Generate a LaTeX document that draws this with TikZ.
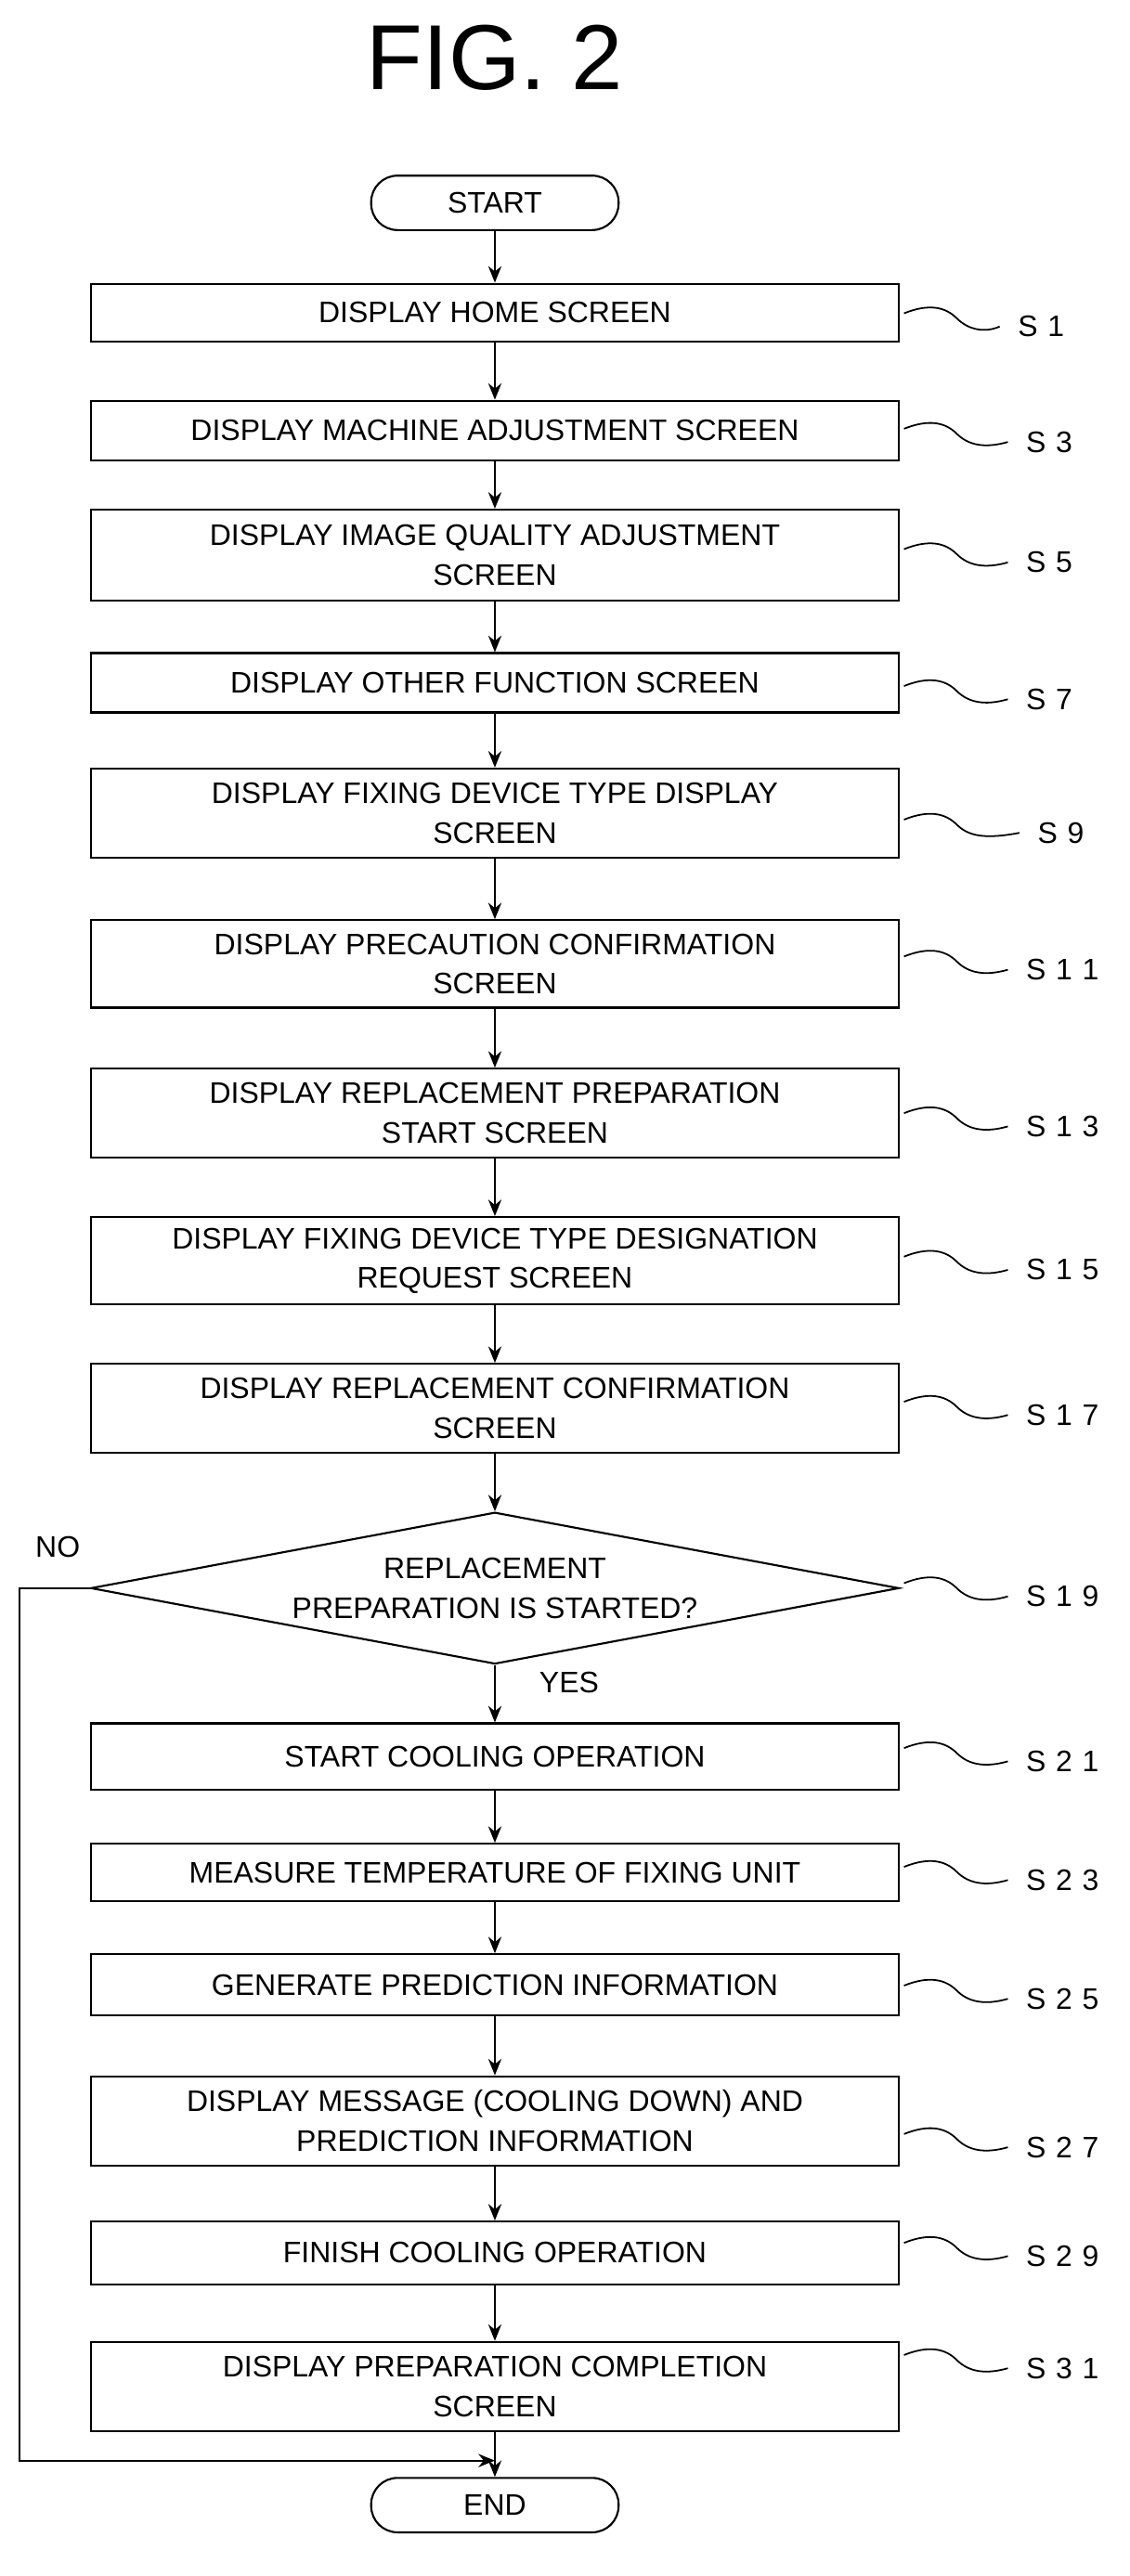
\documentclass[tikz,border=0pt]{standalone}
\usepackage{fontspec}
\setmainfont{Liberation Sans}
\usetikzlibrary{shapes.geometric,arrows.meta}
\begin{document}
\begin{tikzpicture}[x=0.5pt,y=-0.5pt,
  box/.style={draw,line width=0.6pt,minimum width=245pt,align=center,font=\fontsize{9}{12}\selectfont,inner sep=0pt},
  term/.style={draw,line width=0.6pt,rounded corners=8pt,minimum width=75pt,minimum height=16.5pt,font=\fontsize{9}{11}\selectfont},
  arr/.style={-{Stealth[length=5pt,width=4pt]},line width=0.6pt},
  lab/.style={font=\fontsize{9}{11}\selectfont,anchor=west},
  sq/.style={line width=0.5pt}]
\useasboundingbox (0,0) rectangle (685,1562);
\node[font=\fontsize{28}{30}\selectfont] (title) at (300,35) {FIG. 2};
\node[term] (start) at (300,123) {START};
\newcommand{\bx}[4]{\node[box,minimum height=#3*0.5pt] (#1) at (300,#2) {#4};}
\bx{s1}{189.5}{35}{DISPLAY HOME SCREEN}
\bx{s3}{261}{36}{DISPLAY MACHINE ADJUSTMENT SCREEN}
\bx{s5}{336.5}{55}{DISPLAY IMAGE QUALITY ADJUSTMENT\\SCREEN}
\bx{s7}{414}{36}{DISPLAY OTHER FUNCTION SCREEN}
\bx{s9}{493}{54}{DISPLAY FIXING DEVICE TYPE DISPLAY\\SCREEN}
\bx{s11}{584.5}{53}{DISPLAY PRECAUTION CONFIRMATION\\SCREEN}
\bx{s13}{675}{54}{DISPLAY REPLACEMENT PREPARATION\\START SCREEN}
\bx{s15}{764.5}{53}{DISPLAY FIXING DEVICE TYPE DESIGNATION\\REQUEST SCREEN}
\bx{s17}{854}{54}{DISPLAY REPLACEMENT CONFIRMATION\\SCREEN}
\node[draw,line width=0.6pt,diamond,aspect=5.3,minimum width=245pt,minimum height=46pt,inner sep=0pt,align=center,font=\fontsize{9}{12}\selectfont] (s19) at (300,963) {REPLACEMENT\\PREPARATION IS STARTED?};
\bx{s21}{1065}{40}{START COOLING OPERATION}
\bx{s23}{1135.5}{35}{MEASURE TEMPERATURE OF FIXING UNIT}
\bx{s25}{1203.5}{37}{GENERATE PREDICTION INFORMATION}
\bx{s27}{1286}{54}{DISPLAY MESSAGE (COOLING DOWN) AND\\PREDICTION INFORMATION}
\bx{s29}{1366}{38}{FINISH COOLING OPERATION}
\bx{s31}{1447}{54}{DISPLAY PREPARATION COMPLETION\\SCREEN}
\node[term] (end) at (300,1519) {END};
\foreach \a/\b in {start/s1,s1/s3,s3/s5,s5/s7,s7/s9,s9/s11,s11/s13,s13/s15,s15/s17,s17/s19,s19/s21,s21/s23,s23/s25,s25/s27,s27/s29,s29/s31}
  \draw[arr] (\a) -- (\b);
\coordinate (j) at (300,1492);
\draw[line width=0.6pt] (s31.south) -- (j);
\draw[arr] (j) -- (end.north);
\coordinate (n1) at (12,963);
\coordinate (n2) at (12,1492);
\draw[arr] (s19.west) -- (n1) -- (n2) -- (j);
\node[font=\fontsize{9}{11}\selectfont] (no) at (35,938) {NO};
\node[font=\fontsize{9}{11}\selectfont] (yes) at (345,1020) {YES};
\foreach \n/\y/\lx in {s1/198/610,s3/268/615,s5/341/615,s7/424/615,s9/505/622,s11/588/615,s13/683/615,s15/770/615,s17/858/615,s19/968/615,s21/1068/615,s23/1140/615,s25/1212/615,s27/1302/615,s29/1368/615,s31/1436/615}{
  \coordinate (a\n) at (548,\y-8);
  \coordinate (b\n) at (\lx-4,\y);
  \draw[sq] (a\n) .. controls (563,\y-14) and (573,\y-12) .. (580,\y-5) .. controls (587,\y+2) and (597,\y+4) .. (b\n);
}
\foreach \n/\y/\lx/\t in {s1/198/610/S\,\,1,s3/268/615/S\,\,3,s5/341/615/S\,\,5,s7/424/615/S\,\,7,s9/505/622/S\,\,9,s11/588/615/S\,\,1\,\,1,s13/683/615/S\,\,1\,\,3,s15/770/615/S\,\,1\,\,5,s17/858/615/S\,\,1\,\,7,s19/968/615/S\,\,1\,\,9,s21/1068/615/S\,\,2\,\,1,s23/1140/615/S\,\,2\,\,3,s25/1212/615/S\,\,2\,\,5,s27/1302/615/S\,\,2\,\,7,s29/1368/615/S\,\,2\,\,9,s31/1436/615/S\,\,3\,\,1}
  \node[lab] (l\n) at (\lx,\y) {\t};
\end{tikzpicture}
\end{document}
